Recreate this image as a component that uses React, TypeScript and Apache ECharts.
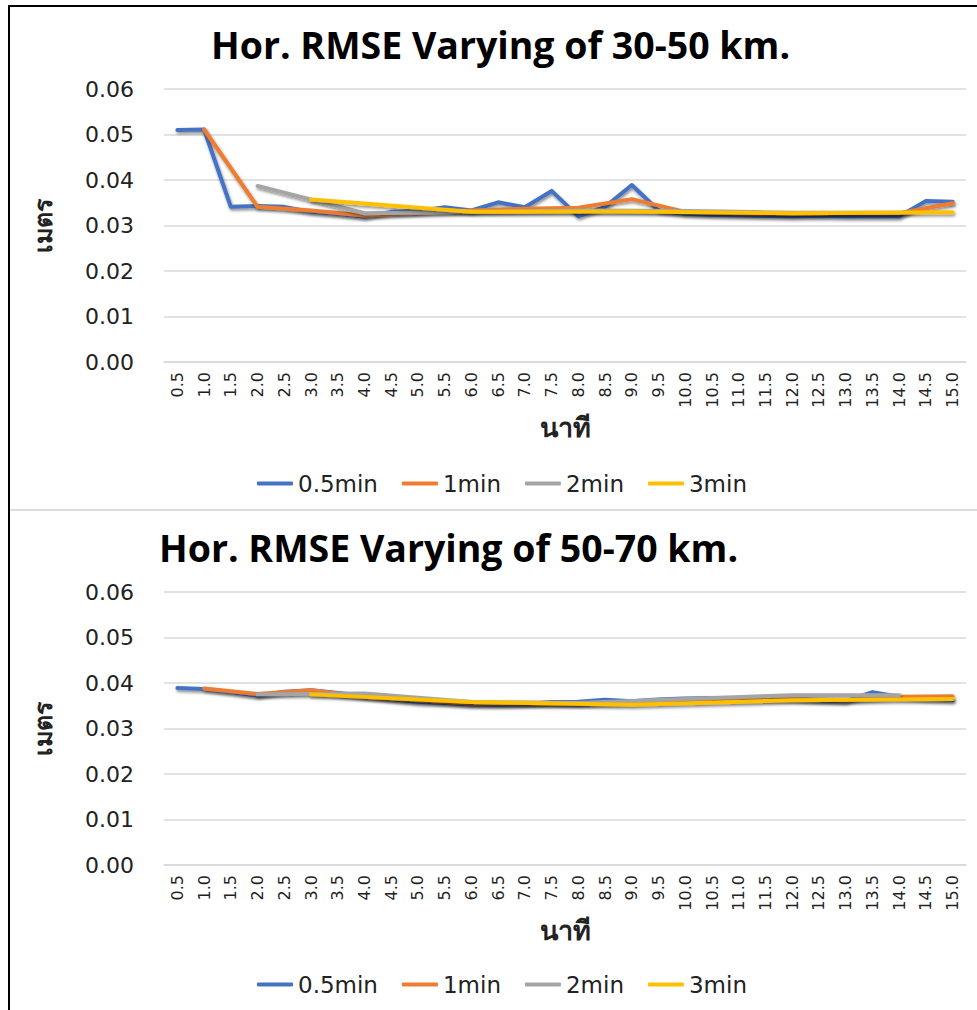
import React, { useEffect, useRef } from "react";
import * as echarts from "echarts";

const categories = [
  "0.5", "1.0", "1.5", "2.0", "2.5", "3.0", "3.5", "4.0", "4.5", "5.0",
  "5.5", "6.0", "6.5", "7.0", "7.5", "8.0", "8.5", "9.0", "9.5", "10.0",
  "10.5", "11.0", "11.5", "12.0", "12.5", "13.0", "13.5", "14.0", "14.5", "15.0",
];
const yTicks = [0, 0.01, 0.02, 0.03, 0.04, 0.05, 0.06];
const seriesNames = ["0.5min", "1min", "2min", "3min"];
const colors = ["#4472C4", "#ED7D31", "#A5A5A5", "#FFC000"];
const titles = ["Hor. RMSE Varying of 30-50 km.", "Hor. RMSE Varying of 50-70 km."];
const xName = "นาที";
const yName = "เมตร";

const _ = null;
// 30-50 km
const top05 = [0.0510, 0.0511, 0.0341, 0.0343, 0.0341, 0.0330, 0.0326, 0.0319, 0.0330, 0.0332, 0.0340, 0.0333, 0.0351, 0.0340, 0.0376, 0.0320, 0.0341, 0.0389, 0.0333, 0.0325, 0.0323, 0.0322, 0.0321, 0.0320, 0.0321, 0.0320, 0.0320, 0.0320, 0.0354, 0.0352];
const top1 = [_, 0.0511, _, 0.0341, _, 0.0333, _, 0.0322, _, 0.0328, _, 0.0333, _, 0.0337, _, 0.0339, _, 0.0358, _, 0.0330, _, 0.0327, _, 0.0325, _, 0.0327, _, 0.0327, _, 0.0349];
const top2 = [_, _, _, 0.0387, _, _, _, 0.0327, _, _, _, 0.0330, _, _, _, 0.0333, _, _, _, 0.0332, _, _, _, 0.0328, _, _, _, 0.0328, _, _];
const top3 = [_, _, _, _, _, 0.0357, _, _, _, _, _, 0.0330, _, _, _, _, _, 0.0331, _, _, _, _, _, 0.0327, _, _, _, _, _, 0.0329];
// 50-70 km
const bot05 = [0.0389, 0.0387, 0.0380, 0.0372, 0.0381, 0.0384, 0.0378, 0.0372, 0.0364, 0.0358, 0.0356, 0.0353, 0.0352, 0.0354, 0.0358, 0.0359, 0.0363, 0.0360, 0.0364, 0.0366, 0.0367, 0.0367, 0.0368, 0.0366, 0.0362, 0.0360, 0.0380, 0.0370, 0.0365, 0.0362];
const bot1 = [_, 0.0388, _, 0.0376, _, 0.0384, _, 0.0370, _, 0.0362, _, 0.0355, _, 0.0355, _, 0.0354, _, 0.0358, _, 0.0362, _, 0.0365, _, 0.0365, _, 0.0362, _, 0.0370, _, 0.0371];
const bot2 = [_, _, _, 0.0375, _, _, _, 0.0377, _, _, _, 0.0358, _, _, _, 0.0356, _, _, _, 0.0365, _, _, _, 0.0373, _, _, _, 0.0373, _, _];
const bot3 = [_, _, _, _, _, 0.0375, _, _, _, _, _, 0.0358, _, _, _, _, _, 0.0352, _, _, _, _, _, 0.0362, _, _, _, _, _, 0.0365];

const panels = [
  { title: titles[0], data: [top05, top1, top2, top3], gridTop: 89, titleLeft: 206, titleTop: 20, legendTop: 467 },
  { title: titles[1], data: [bot05, bot1, bot2, bot3], gridTop: 592, titleLeft: 154, titleTop: 523, legendTop: 968 },
];

const GRID_LEFT = 164;
const GRID_RIGHT = 11;
const GRID_H = 273;
const TICK_FONT = "DejaVu Sans";

export default function App() {
  const ref = useRef<HTMLDivElement>(null);
  useEffect(() => {
    if (!ref.current) return;
    const chart = echarts.init(ref.current, undefined, { renderer: "svg" });
    const option: any = {
      animation: false,
      backgroundColor: "#ffffff",
      title: panels.map((p) => ({
        text: p.title,
        left: p.titleLeft,
        top: p.titleTop,
        textStyle: { fontFamily: "Open Sans", fontWeight: 700, fontSize: 37.5, color: "#000" },
      })),
      legend: panels.map((p) => ({
        left: 252,
        top: p.legendTop,
        icon: "roundRect",
        itemWidth: 36,
        itemHeight: 4,
        itemGap: 24,
        data: seriesNames,
        textStyle: { fontFamily: TICK_FONT, fontSize: 23, color: "#222" },
      })),
      grid: panels.map((p) => ({ left: GRID_LEFT, right: GRID_RIGHT, top: p.gridTop, height: GRID_H })),
      xAxis: panels.map((p, i) => ({
        type: "category",
        gridIndex: i,
        data: categories,
        boundaryGap: true,
        name: xName,
        nameLocation: "middle",
        nameGap: 52,
        nameTextStyle: { fontFamily: TICK_FONT, fontWeight: "bold", fontSize: 27, color: "#222" },
        axisLine: { show: true, lineStyle: { color: "#d9d9d9", width: 1.5 } },
        axisTick: { show: false },
        axisLabel: { rotate: 90, fontFamily: TICK_FONT, fontSize: 16, color: "#222", margin: 10, interval: 0 },
      })),
      yAxis: panels.map((p, i) => ({
        type: "value",
        gridIndex: i,
        min: yTicks[0],
        max: yTicks[yTicks.length - 1],
        interval: 0.01,
        name: yName,
        nameLocation: "middle",
        nameRotate: 90,
        nameGap: 108,
        nameTextStyle: { fontFamily: TICK_FONT, fontWeight: "bold", fontSize: 25, color: "#222" },
        axisLine: { show: false },
        axisTick: { show: false },
        splitLine: { lineStyle: { color: "#d9d9d9", width: 1.5 } },
        axisLabel: {
          fontFamily: TICK_FONT,
          fontSize: 22,
          color: "#222",
          margin: 30,
          formatter: (v: number) => v.toFixed(2),
        },
      })),
      series: panels.flatMap((p, i) =>
        p.data.map((d, k) => ({
          type: "line",
          name: seriesNames[k],
          xAxisIndex: i,
          yAxisIndex: i,
          data: d,
          connectNulls: true,
          showSymbol: false,
          symbol: "none",
          color: colors[k],
          lineStyle: {
            color: colors[k],
            width: 4,
            cap: "round",
            join: "round",
            shadowColor: "rgba(0,0,0,0.45)",
            shadowBlur: 3,
            shadowOffsetX: 1,
            shadowOffsetY: 2,
          },
          z: 2 + k,
        }))
      ),
      graphic: [
        { type: "line", shape: { x1: 9, y1: 6, x2: 977, y2: 6 }, style: { stroke: "#000", lineWidth: 2 } },
        { type: "line", shape: { x1: 9, y1: 5, x2: 9, y2: 1010 }, style: { stroke: "#000", lineWidth: 2 } },
        { type: "line", shape: { x1: 10, y1: 510, x2: 977, y2: 510 }, style: { stroke: "#d0d0d0", lineWidth: 1.5 } },
      ],
    };
    chart.setOption(option);
    return () => chart.dispose();
  }, []);
  return (
    <div
      ref={ref}
      style={{ position: "absolute", left: 0, top: 0, width: 977, height: 1010 }}
    />
  );
}
